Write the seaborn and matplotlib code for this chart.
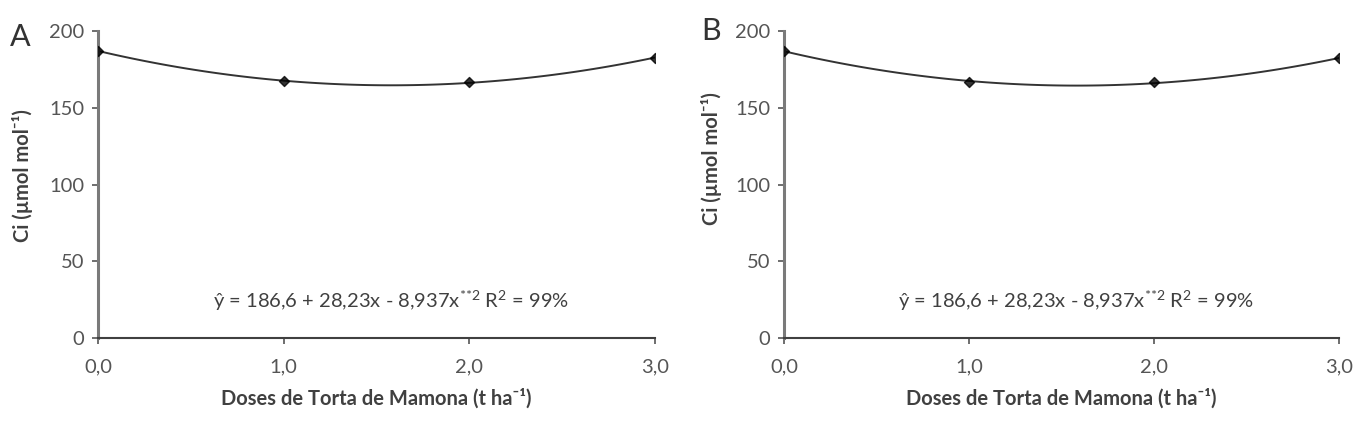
import matplotlib
matplotlib.use("Agg")
import matplotlib.pyplot as plt
import seaborn as sns
import numpy as np
import pandas as pd

sns.set_theme(style="white")
plt.rcParams['font.family'] = ['Lato', 'DejaVu Sans']
plt.rcParams['mathtext.fontset'] = 'custom'
plt.rcParams['mathtext.rm'] = 'Lato'
plt.rcParams['mathtext.it'] = 'Lato'

# Data
doses = [0.0, 1.0, 2.0, 3.0]
ci_A = [187.2, 167.2, 166.7, 182.6]
ci_B = [187.0, 167.0, 166.5, 182.3]
panel_letters = ["A", "B"]
xtick_vals = [0.0, 1.0, 2.0, 3.0]
xtick_labels = ["0,0", "1,0", "2,0", "3,0"]
ytick_vals = [0, 50, 100, 150, 200]
equation = r"ŷ = 186,6 + 28,23x - 8,937x$^{{*}{*}2}$ R$^{2}$ = 99%"
xlabel = "Doses de Torta de Mamona (t ha⁻¹)"
ylabel = "Ci (µmol mol⁻¹)"

fig = plt.figure(figsize=(13.7, 4.36), dpi=100)
positions = [[0.0715, 0.2248, 0.4066, 0.704], [0.5723, 0.2248, 0.4051, 0.704]]
letter_pos = [(0.007, 0.915), (0.512, 0.93)]
ylabel_coords = [(-0.117, 0.53), (-0.112, 0.585)]

for i, (vals, pos) in enumerate(zip([ci_A, ci_B], positions)):
    ax = fig.add_axes(pos)
    df = pd.DataFrame({"x": doses, "y": vals})
    sns.regplot(data=df, x="x", y="y", order=2, ci=None, ax=ax,
                marker="D",
                scatter_kws=dict(s=26, color="black", zorder=3),
                line_kws=dict(color="#333333", lw=1.4))
    ax.set_xlim(0, 3)
    ax.set_ylim(0, 200)
    ax.set_xticks(xtick_vals)
    ax.set_xticklabels(xtick_labels)
    ax.set_yticks(ytick_vals)
    ax.tick_params(axis="both", which="both", direction="out", length=4,
                   width=1.2, colors="#555555", labelsize=14.5, pad=6,
                   bottom=True, left=True)
    ax.tick_params(axis="x", pad=11)
    for s in ["top", "right"]:
        ax.spines[s].set_visible(False)
    ax.spines["left"].set_color("#7a7a7a")
    ax.spines["left"].set_linewidth(2.2)
    ax.spines["bottom"].set_color("#404040")
    ax.spines["bottom"].set_linewidth(1.5)
    ax.set_xlabel(xlabel, fontsize=14.5, fontweight="bold", color="#404040", labelpad=9)
    ax.set_ylabel(ylabel, fontsize=14.5, fontweight="bold", color="#404040")
    ax.yaxis.set_label_coords(*ylabel_coords[i])
    ax.text(1.58, 24, equation, ha="center", va="center", fontsize=14.5, color="#404040")
    ax.grid(False)
    fig.text(letter_pos[i][0], letter_pos[i][1], panel_letters[i], fontsize=22, color="#333333",
             ha="left", va="center")

fig.savefig("out.png", dpi=100)
